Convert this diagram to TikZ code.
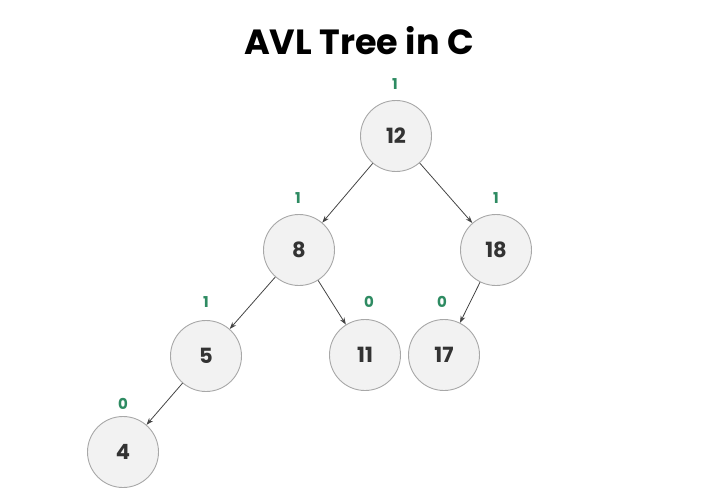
\documentclass[tikz,border=0pt]{standalone}
\usepackage{fontspec}
\setmainfont{Poppins}
\usetikzlibrary{arrows.meta}
\definecolor{nodefill}{HTML}{F2F2F2}
\definecolor{nodeline}{HTML}{A8A8A8}
\definecolor{numtext}{HTML}{333333}
\definecolor{balgreen}{HTML}{2E8B62}
\definecolor{edgecol}{HTML}{444444}
\begin{document}
\begin{tikzpicture}[x=1pt,y=-1pt,
  treenode/.style={circle,draw=nodeline,fill=nodefill,line width=0.9pt,minimum size=71pt,inner sep=0pt,
    font=\fontsize{21}{24}\selectfont\bfseries,text=numtext},
  bal/.style={font=\fontsize{15}{16}\selectfont\bfseries,text=balgreen,inner sep=0pt},
  edge/.style={draw=edgecol,line width=0.8pt,-{Stealth[length=7pt,width=5pt]}}]
\useasboundingbox (0,0) rectangle (720,500);
\node[font=\fontsize{35}{40}\selectfont\bfseries,text=black] (title) at (359,41) {AVL Tree in C};
\node[treenode] (n12) at (396,136) {12};
\node[treenode] (n8) at (299,250) {8};
\node[treenode] (n18) at (496,250) {18};
\node[treenode] (n5) at (206,356) {5};
\node[treenode] (n11) at (365,355) {11};
\node[treenode] (n17) at (444,355) {17};
\node[treenode] (n4) at (123,452) {4};
\node[bal] (b12) at (395,84) {1};
\node[bal] (b8) at (298,198) {1};
\node[bal] (b18) at (496,198) {1};
\node[bal] (b5) at (206,302) {1};
\node[bal] (b11) at (369,302) {0};
\node[bal] (b17) at (442,302) {0};
\node[bal] (b4) at (123,404) {0};
\draw[edge] (n12) -- (n8);
\draw[edge] (n12) -- (n18);
\draw[edge] (n8) -- (n5);
\draw[edge] (n8) -- (n11);
\draw[edge] (n18) -- (n17);
\draw[edge] (n5) -- (n4);
\end{tikzpicture}
\end{document}
